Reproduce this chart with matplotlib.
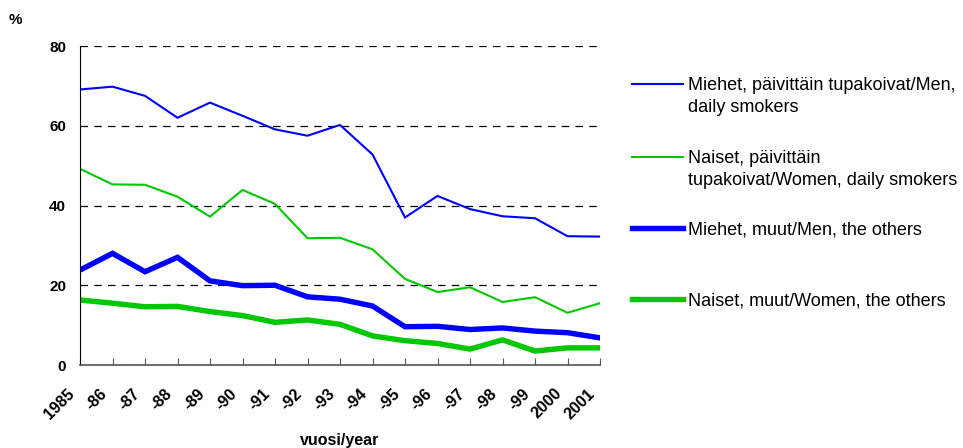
import matplotlib

matplotlib.use("Agg")
import matplotlib.pyplot as plt
import matplotlib.transforms as mtransforms
from matplotlib.lines import Line2D

plt.rcParams["font.family"] = ["Liberation Sans", "DejaVu Sans"]

vuodet = list(range(1985, 2002))
tick_labels = ["1985", "-86", "-87", "-88", "-89", "-90", "-91", "-92", "-93",
               "-94", "-95", "-96", "-97", "-98", "-99", "2000", "2001"]

miehet_paivittain = [69.1, 69.8, 67.5, 62.0, 65.8, 62.5, 59.1, 57.5, 60.2,
                     52.8, 37.0, 42.4, 39.1, 37.3, 36.8, 32.3, 32.2]
naiset_paivittain = [49.2, 45.3, 45.2, 42.2, 37.2, 43.9, 40.4, 31.8, 31.9,
                     29.0, 21.6, 18.3, 19.5, 15.8, 17.0, 13.1, 15.5]
miehet_muut = [23.8, 28.0, 23.4, 27.0, 21.1, 19.9, 20.0, 17.1, 16.5,
               14.8, 9.6, 9.7, 8.9, 9.3, 8.5, 8.1, 6.8]
naiset_muut = [16.3, 15.5, 14.6, 14.7, 13.4, 12.4, 10.7, 11.3, 10.2,
               7.3, 6.1, 5.4, 4.0, 6.3, 3.5, 4.3, 4.3]

sarjat = [
    ("Miehet, päivittäin tupakoivat/Men,\ndaily smokers", miehet_paivittain, "#0000FF", 1.5),
    ("Naiset, päivittäin\ntupakoivat/Women, daily smokers", naiset_paivittain, "#00C800", 1.5),
    ("Miehet, muut/Men, the others", miehet_muut, "#0000FF", 3.9),
    ("Naiset, muut/Women, the others", naiset_muut, "#00C800", 3.9),
]

W, H = 963, 448
fig = plt.figure(figsize=(W / 100, H / 100), dpi=100)
ax = fig.add_axes([80 / W, 1 - 365 / H, 520 / W, 319 / H])

for nimi, arvot, vari, lw in sarjat:
    ax.plot(vuodet, arvot, color=vari, linewidth=lw, solid_joinstyle="miter")

ax.set_xlim(1985, 2001)
ax.set_ylim(0, 80)
ax.set_yticks([0, 20, 40, 60, 80])
ax.set_xticks(vuodet)
ax.tick_params(axis="y", length=0, pad=10)
ax.tick_params(axis="x", direction="in", length=5, color="#555555", pad=15)
ax.set_xticklabels(tick_labels, rotation=45, ha="right", va="top",
                   rotation_mode="anchor", fontsize=11.5, fontweight="bold")
# vuosiluvut hieman vasemmalle, kuten alkuperäisessä (tick_params nollaa siirron, joten vasta sen jälkeen)
siirto = mtransforms.ScaledTranslation(-13 / 100, 0, fig.dpi_scale_trans)
for lab in ax.get_xticklabels():
    lab.set_transform(lab.get_transform() + siirto)
for lab in ax.get_yticklabels():
    lab.set_fontweight("bold")
    lab.set_fontsize(11)
ax.yaxis.grid(True, linestyle=(0, (6, 5)), color="black", linewidth=0.9)
ax.set_axisbelow(True)
for s in ("top", "right"):
    ax.spines[s].set_visible(False)
ax.spines["left"].set_color("black")
ax.spines["bottom"].set_color("#555555")
ax.spines["bottom"].set_linewidth(1.2)

fig.text(15 / W, 1 - 20 / H, "%", fontsize=11, fontweight="bold", va="center", ha="center")
fig.text(340 / W, 1 - 433 / H, "vuosi/year", fontsize=11.5, fontweight="bold", va="top", ha="center")

# selite käsin, jotta välit vastaavat alkuperäistä
selite_y = [84, 157, 228, 299]
for (nimi, arvot, vari, lw), y in zip(sarjat, selite_y):
    fig.add_artist(Line2D([632 / W, 683 / W], [1 - y / H, 1 - y / H],
                          color=vari, linewidth=lw, transform=fig.transFigure))
    for i, rivi in enumerate(nimi.split("\n")):
        fig.text(688 / W, 1 - (y + 1.5 + 22 * i) / H, rivi, fontsize=13,
                 va="center", ha="left")

fig.savefig("out.png", dpi=100)
